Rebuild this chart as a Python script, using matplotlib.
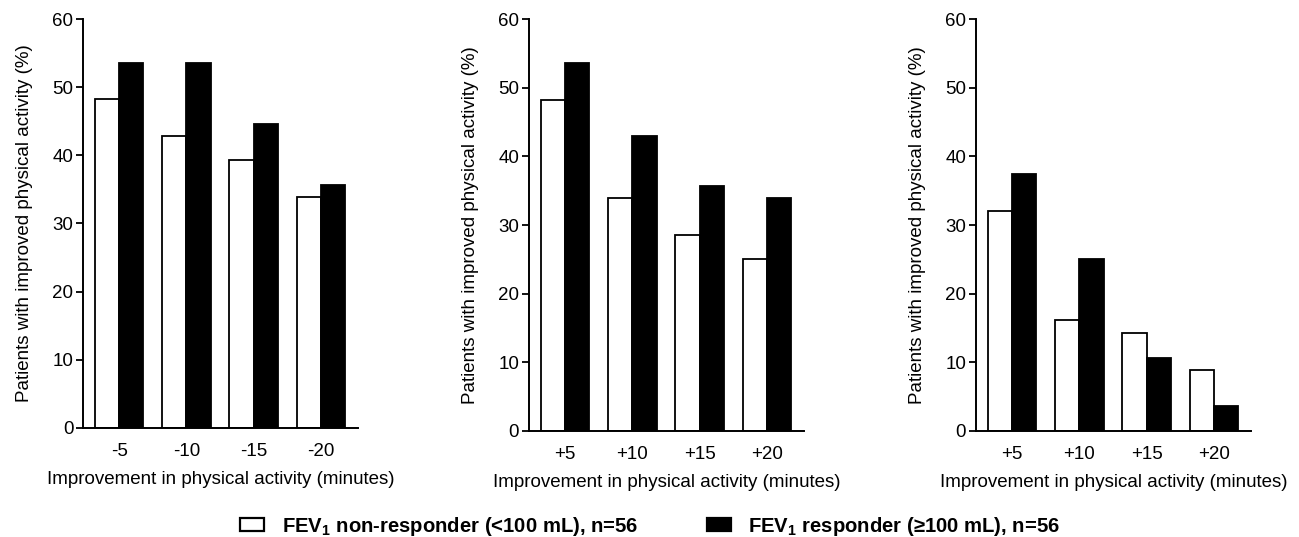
"""Three-panel grouped bar chart: FEV1 non-responders vs responders."""
import matplotlib
matplotlib.use("Agg")
import matplotlib.pyplot as plt
from matplotlib.patches import Patch
import numpy as np

plt.rcParams.update({
    "font.family": ["Liberation Sans", "DejaVu Sans"],
    "font.size": 12,
    "axes.linewidth": 1.4,
    "mathtext.fontset": "custom",
    "mathtext.rm": "Liberation Sans",
    "mathtext.bf": "Liberation Sans:bold",
})

# data (percent of patients)
labels_minus = ["-5", "-10", "-15", "-20"]
labels_plus = ["+5", "+10", "+15", "+20"]

p1_nonresp = [48.2, 42.9, 39.3, 33.9]
p1_resp = [53.6, 53.6, 44.6, 35.7]

p2_nonresp = [48.2, 33.9, 28.6, 25.0]
p2_resp = [53.6, 42.9, 35.7, 33.9]

p3_nonresp = [32.1, 16.1, 14.3, 8.9]
p3_resp = [37.5, 25.0, 10.7, 3.6]

yticks = [0, 10, 20, 30, 40, 50, 60]
xlabel = "Improvement in physical activity (minutes)"
ylabel = "Patients with improved physical activity (%)"
leg_labels = [r"FEV$_{\mathbf{1}}$ non-responder (<100 mL), n=56",
              r"FEV$_{\mathbf{1}}$ responder (≥100 mL), n=56"]

panels = [
    (labels_minus, p1_nonresp, p1_resp, 0.0639, 0.2030),
    (labels_plus, p2_nonresp, p2_resp, 0.4072, 0.1974),
    (labels_plus, p3_nonresp, p3_resp, 0.7513, 0.1974),
]

fig = plt.figure(figsize=(12.99, 5.37), dpi=100)
w = 0.36
for cats, nonresp, resp, left, bottom in panels:
    ax = fig.add_axes([left, bottom, 0.2115, 0.9646 - bottom])
    x = np.arange(len(cats))
    ax.bar(x - w / 2, nonresp, w, color="white", edgecolor="black", linewidth=1.3)
    ax.bar(x + w / 2, resp, w, color="black", edgecolor="black", linewidth=1.3)
    ax.set_xlim(-0.54, 3.55)
    ax.set_ylim(0, 60)
    ax.set_yticks(yticks)
    ax.set_xticks(x)
    ax.set_xticklabels(cats)
    ax.tick_params(axis="x", length=0, pad=11, labelsize=13.5)
    ax.tick_params(axis="y", length=5, width=1.3, labelsize=13.5, pad=2)
    for s in ("top", "right"):
        ax.spines[s].set_visible(False)
    ax.set_xlabel(xlabel, fontsize=13.5, labelpad=8)
    ax.set_ylabel(ylabel, fontsize=13.5, labelpad=14)

handles = [Patch(facecolor="white", edgecolor="black", linewidth=1.6),
           Patch(facecolor="black", edgecolor="black", linewidth=1.6)]
fig.legend(handles, leg_labels, loc="center", bbox_to_anchor=(0.5005, 0.02),
           ncol=2, frameon=False,
           prop={"family": "Liberation Sans", "weight": "bold", "size": 14.6},
           handlelength=1.2, handleheight=0.55, handletextpad=0.85,
           columnspacing=3.4, borderpad=0.2)

fig.savefig("out.png", dpi=100)
